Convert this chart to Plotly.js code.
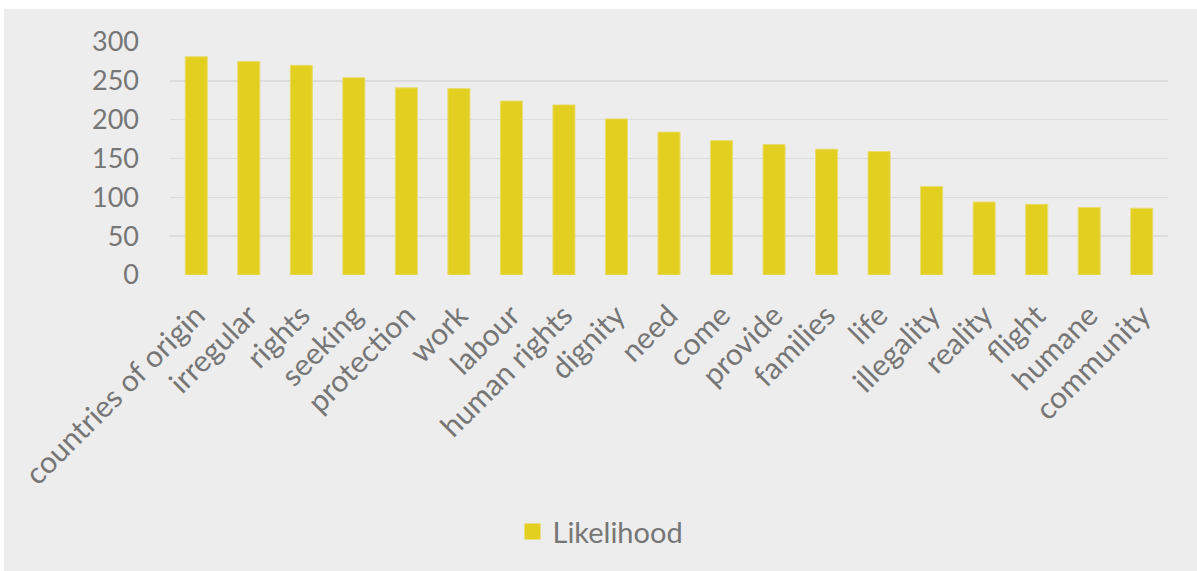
<!DOCTYPE html>
<html><head><meta charset="utf-8">
<script src="https://cdn.plot.ly/plotly-3.0.1.min.js"></script>
<style>
html,body{margin:0;padding:0;background:#ffffff;width:1197px;height:571px;overflow:hidden;}
#chart{position:absolute;left:4px;top:9px;width:1193px;height:562px;}
</style></head>
<body><div id="chart"></div>
<script>
const categories = ["countries of origin","irregular","rights","seeking","protection","work","labour","human rights","dignity","need","come","provide","families","life","illegality","reality","flight","humane","community"];
const likelihood = [281,275,270,254,241,240,224,219,201,184,173,168,162,159,114,94,91,87,86];
const seriesName = "Likelihood";
const yTicks = [0,50,100,150,200,250,300];

const FONT = "Lato, 'Open Sans', sans-serif";
const TXT = "#767676";
const BAR = "#e2cf20";

const traces = [
  {type:"bar", x:categories, y:likelihood, name:seriesName, showlegend:false,
   marker:{color:BAR, line:{color:"#e9dc72", width:1}}, hoverinfo:"x+y"},
  {type:"scatter", mode:"markers", x:[null], y:[null], name:seriesName, showlegend:true,
   marker:{symbol:"square", size:17, color:BAR}}
];

const layout = {
  width:1193, height:562,
  paper_bgcolor:"#ededed", plot_bgcolor:"#ededed",
  margin:{l:166, r:29, t:33, b:296},
  bargap:0.58,
  font:{family:FONT, color:TXT, size:26},
  xaxis:{type:"category", tickangle:-45, showgrid:false, zeroline:false, showline:false,
         ticks:"", ticklabelstandoff:16, tickfont:{family:FONT, size:30, color:TXT}},
  yaxis:{range:[0,300], tickvals:yTicks, ticktext:yTicks.map(String), showgrid:true,
         gridcolor:"#dcdcdc", gridwidth:1.5, zeroline:false, showline:false, ticks:"",
         ticklabelstandoff:30, tickfont:{family:FONT, size:27, color:TXT}},
  legend:{orientation:"h", xref:"container", yref:"container", x:0.5, xanchor:"center",
          y:0.07, yanchor:"middle", bgcolor:"rgba(0,0,0,0)", font:{family:FONT, size:29, color:TXT},
          itemwidth:30},
  showlegend:true
};

Plotly.newPlot("chart", traces, layout, {displayModeBar:false, staticPlot:true});
</script></body></html>
